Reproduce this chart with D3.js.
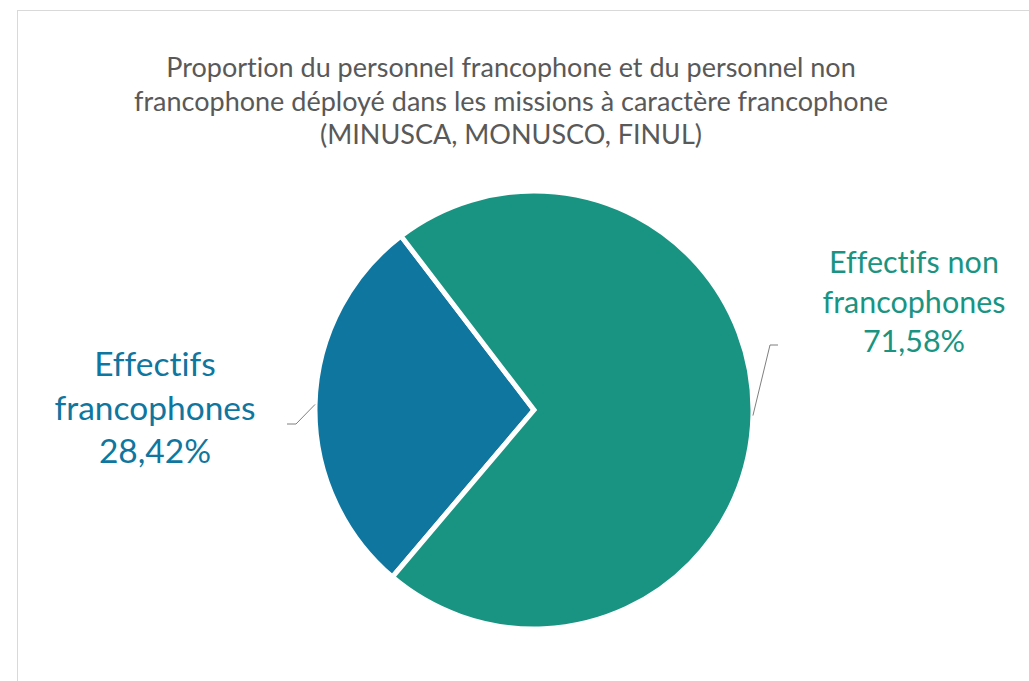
<!DOCTYPE html>
<html>
<head>
<meta charset="utf-8">
<script src="https://cdn.jsdelivr.net/npm/d3@7"></script>
<style>
    body { margin: 0; background: #fff; }
    svg { display: block; font-family: Lato, "Open Sans", sans-serif; font-variant-ligatures: none; }
</style>
</head>
<body>
<svg class="chart" width="1029" height="681"></svg>
<script>
"use strict";
(function () {

    const titleLines = [
        "Proportion du personnel francophone et du personnel non",
        "francophone déployé dans les missions à caractère francophone",
        "(MINUSCA, MONUSCO, FINUL)"
    ];
    const categories = ["Effectifs francophones", "Effectifs non francophones"];
    const values = [28.42, 71.58];
    const labelLines = [
        ["Effectifs", "francophones", "28,42%"],
        ["Effectifs non", "francophones", "71,58%"]
    ];

    const WIDTH = 1029, HEIGHT = 681;
    const CX = 534, CY = 410, R = 219;
    const COLORS = ["#0f76a0", "#1a9482"];

    // label placement (centre x, first baseline, line step, font size, leader elbow)
    const LABELS = [
        { x: 155, y: 376, step: 43.5, size: 33.5, elbow: [296, 424], end: 287 },
        { x: 914, y: 273, step: 39.5, size: 30.5, elbow: [770, 345], end: 778 }
    ];

    const svg = d3.select(".chart");

    svg.append("rect")
        .attr("x", 17.5)
        .attr("y", 10.5)
        .attr("width", WIDTH)
        .attr("height", HEIGHT)
        .attr("fill", "#fff")
        .attr("stroke", "#d9d9d9")

    svg.append("g")
        .selectAll("text")
        .data(titleLines)
        .enter()
        .append("text")
        .attr("x", 511)
        .attr("y", (d, i) => 77 + i * 33.5)
        .attr("text-anchor", "middle")
        .attr("font-size", 27)
        .attr("fill", "#595959")
        .text(d => d)

    const pie = d3.pie()
        .sort(null)
        .startAngle(220.3 * Math.PI / 180)
        .endAngle(220.3 * Math.PI / 180 + 2 * Math.PI);

    const arcs = pie(values);
    const arc = d3.arc().innerRadius(0).outerRadius(R);

    const g = svg.append("g").attr("transform", `translate(${CX},${CY})`);

    g.selectAll("path")
        .data(arcs)
        .enter()
        .append("path")
        .attr("d", arc)
        .attr("fill", (d, i) => COLORS[i])
        .attr("stroke", "#fff")
        .attr("stroke-width", 5)
        .attr("stroke-linejoin", "miter")

    // leader lines from slice edge at mid angle
    svg.append("g")
        .selectAll("polyline")
        .data(arcs)
        .enter()
        .append("polyline")
        .attr("points", (d, i) => {
            const a = (d.startAngle + d.endAngle) / 2;
            const sx = CX + Math.sin(a) * R, sy = CY - Math.cos(a) * R;
            const L = LABELS[i];
            return [[sx, sy], L.elbow, [L.end, L.elbow[1]]].join(" ");
        })
        .attr("fill", "none")
        .attr("stroke", "#7f7f7f")
        .attr("stroke-width", 1)

    categories.forEach((c, i) => {
        const L = LABELS[i];
        svg.append("g")
            .attr("class", "label")
            .selectAll("text")
            .data(labelLines[i])
            .enter()
            .append("text")
            .attr("x", L.x)
            .attr("y", (d, j) => L.y + j * L.step)
            .attr("text-anchor", "middle")
            .attr("font-size", L.size)
            .attr("fill", COLORS[i])
            .text(d => d)
    })
})();
</script>
</body>
</html>
